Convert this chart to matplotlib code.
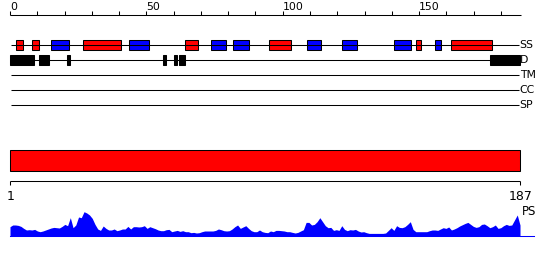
import matplotlib
matplotlib.use("Agg")
import matplotlib.pyplot as plt
from matplotlib.patches import Rectangle
import numpy as np

# ---------------- data ----------------
seq_len = 187
top_ticks = list(range(0, 190, 10))
top_tick_labels = [0, 50, 100, 150]

helix_starts = [2.1, 8.0, 26.9, 64.1, 95.1, 149.0, 161.8]
helix_ends = [4.9, 10.75, 40.7, 69.1, 102.9, 150.8, 176.8]
strand_starts = [14.9, 43.8, 73.8, 81.9, 109.0, 121.9, 140.9, 156.0]
strand_ends = [21.7, 51.1, 79.1, 87.7, 113.9, 127.2, 146.9, 158.0]
dis_starts = [0.0, 10.8, 21.0, 56.0, 60.0, 62.1, 176.0]
dis_ends = [8.9, 14.2, 21.9, 57.2, 61.1, 64.0, 187.0]

track_names = ["SS", "D", "TM", "CC", "SP"]

bottom_labels = ["1", "187"]

ps_scores = [
    9, 10.7, 10.7, 10.3, 9.3, 7.3, 5.7, 6, 5.7, 6.3, 4.7, 4, 4.7, 5.7, 6.7, 7.7, 8.3, 8, 7.7, 9.3,
    11.3, 10, 18, 8, 10.7, 18.7, 18, 24, 22.7, 20.7, 17.3, 11.3, 6.7, 5.3, 9.7, 7.3, 5.7, 5.7, 6.7, 5,
    5.7, 6.7, 6.7, 9.3, 6.7, 9, 9,
    8.7, 9, 10, 7.3, 9, 8, 7, 5.7, 5, 5, 6, 6.3, 4, 4.7, 5.3, 4.3, 5, 4, 4, 3, 3.3, 2.7, 3, 4,
    4.7, 4.7, 4.7, 4.7, 5.3, 6.7, 6, 5, 4.7, 5, 6.7, 9, 10.7, 7.3, 8.7, 10, 7.3, 5, 4, 4, 5.7, 4, 3.3, 3,
    4.7, 4, 5.3, 5.3, 5, 4.7, 4, 4, 3.3, 2.7, 3.3, 4.7, 6, 13.3, 13.3, 10.7, 11.3, 14, 18, 14, 10, 8, 8.3,
    5.3, 6, 5.3, 10, 6.3, 5, 6, 5.7, 6.3, 4.7, 3.7, 4, 3, 2.3, 2.3, 2.3, 2.3, 2.3, 2.3, 2.7, 5.3, 8, 5.3, 10,
    8.3, 8, 9, 11.3, 14, 6.3, 4, 4, 4, 4, 4, 5, 5.7, 5.7, 5.3, 6.7, 8, 7.3, 8.7, 5.7, 6.7, 8, 9.7, 11,
    12.3, 13.3, 11.3, 9.3, 8.3, 9, 11.3, 11.7, 10, 8, 9, 10.7, 7.3, 8, 10, 11.3, 10.3, 10.7, 15.7, 20.7, 10.7,
]

# ---------------- layout ----------------
fig = plt.figure(figsize=(5.5, 2.6), dpi=100)
ax = fig.add_axes([0, 0, 1, 1])
ppr = 510.0 / seq_len  # pixels per residue
ax.set_xlim(-10 / ppr, 540 / ppr)
ax.set_ylim(260, 0)
ax.axis("off")

lw = 0.75
font_small = dict(family="DejaVu Sans", fontsize=7.8)

# top ruler
ax.plot([0, 511 / ppr], [14.7, 14.7], color="black", lw=lw, solid_capstyle="butt")
for t in top_ticks:
    ax.plot([t, t], [11, 14.7], color="black", lw=lw, solid_capstyle="butt")
for t in top_tick_labels:
    ax.text(t, 9.5, str(t), ha="left", va="baseline", **font_small)

# tracks
track_y = [45, 60, 75, 90, 105]
for name, y in zip(track_names, track_y):
    ax.plot([0.25, 186.8], [y, y], color="black", lw=lw, solid_capstyle="butt")
    ax.text(186.9, y, name, ha="left", va="center", **font_small)

for s, e in zip(helix_starts, helix_ends):
    ax.add_patch(Rectangle((s, 40), e - s, 10, facecolor="#ff0000", edgecolor="black", lw=lw))
for s, e in zip(strand_starts, strand_ends):
    ax.add_patch(Rectangle((s, 40), e - s, 10, facecolor="#0000ff", edgecolor="black", lw=lw))
for s, e in zip(dis_starts, dis_ends):
    ax.add_patch(Rectangle((s, 55), e - s, 10, facecolor="black", edgecolor="black", lw=lw))

# bottom domain bar
ax.add_patch(Rectangle((0, 150), seq_len, 20.5, facecolor="#ff0000", edgecolor="black", lw=lw))
ax.plot([0, seq_len], [180.7, 180.7], color="black", lw=lw, solid_capstyle="butt")
for p in [0, seq_len]:
    ax.plot([p, p], [180.7, 185], color="black", lw=lw, solid_capstyle="butt")
ax.text(0.4, 199.5, bottom_labels[0], ha="center", va="baseline", family="DejaVu Sans", fontsize=9)
ax.text(seq_len + 0.2, 199.5, bottom_labels[1], ha="center", va="baseline", family="DejaVu Sans", fontsize=9)

# PS profile
base = 235.7
ps = np.array(ps_scores, dtype=float)
xs = np.linspace(0, seq_len, len(ps))
ax.fill_between(xs, base - ps, base, color="#0000ff", lw=0)
ax.plot([0, 524 / ppr], [base, base], color="#0000ff", lw=lw)
ax.text(511.5 / ppr, 215, "PS", ha="left", va="baseline", family="DejaVu Sans", fontsize=8.5)

fig.savefig("out.png", dpi=100)
